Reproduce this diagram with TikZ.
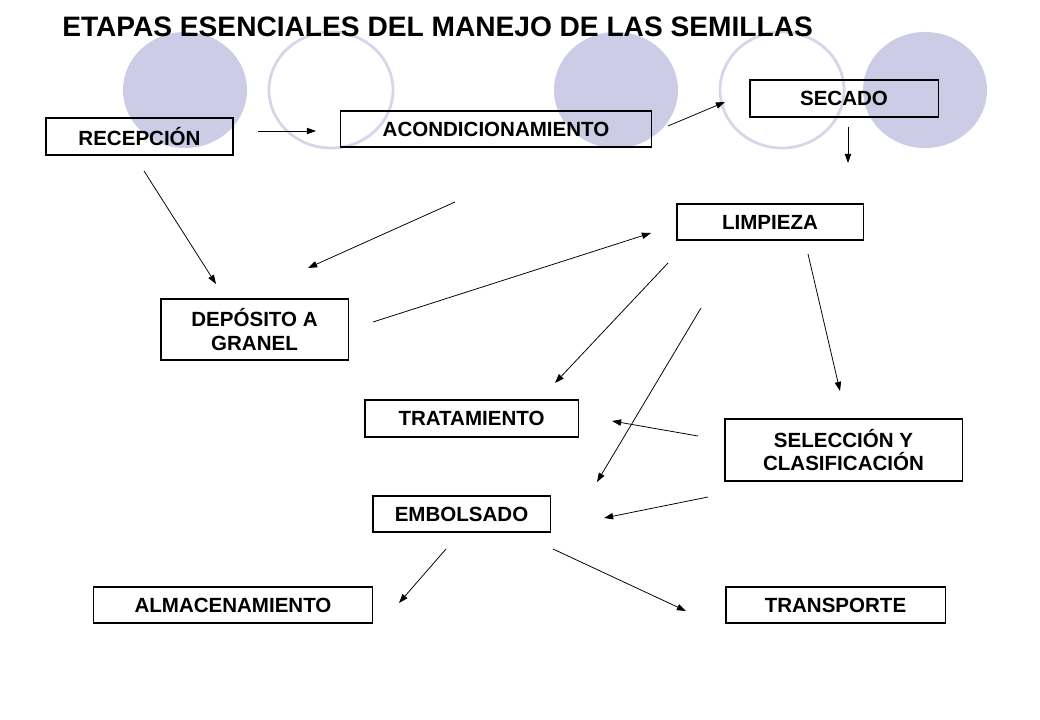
\documentclass[tikz,border=0pt]{standalone}
\usepackage{fontspec}
\setmainfont{Liberation Sans}
\usetikzlibrary{arrows.meta}
\usetikzlibrary{positioning}

\definecolor{lavfill}{HTML}{CCCCE6}
\definecolor{lavline}{HTML}{D6D6EA}

\tikzset{
  etapa/.style={draw, line width=0.75pt, align=center, inner sep=0pt,
    font=\fontsize{14.6}{16.8}\selectfont\bfseries},
  flecha/.style={line width=0.55pt, -{Triangle[length=6.5pt, width=4.5pt]}},
  bola/.style={fill=lavfill},
  aro/.style={draw=lavline, line width=2pt}
}

\begin{document}
\begin{tikzpicture}[x=0.025cm, y=-0.025cm]

  \useasboundingbox (0,0) rectangle (1040,720);

  % ---------- Background circles ----------
  \fill[bola] (185, 90) ellipse (1.55cm and 1.45cm);
  \draw[aro]  (331, 90) ellipse (1.55cm and 1.45cm);
  \fill[bola] (616, 90) ellipse (1.55cm and 1.45cm);
  \draw[aro]  (782, 90) ellipse (1.55cm and 1.45cm);
  \fill[bola] (925, 90) ellipse (1.55cm and 1.45cm);

  % ---------- Title ----------
  \node[anchor=base west, inner sep=0pt, font=\fontsize{20}{22}\selectfont\bfseries]
    at (62, 37) (titulo) {ETAPAS ESENCIALES DEL MANEJO DE LAS SEMILLAS};

  % ---------- Boxes ----------
  \node[etapa, minimum width=4.675cm, minimum height=0.925cm] at (139.5, 136.5) (recep) {RECEPCIÓN};
  \node[etapa, minimum width=7.75cm,  minimum height=0.9cm]   at (496, 129)     (acond) {ACONDICIONAMIENTO};
  \node[etapa, minimum width=4.7cm,   minimum height=0.925cm] at (844, 98.5)    (secado) {SECADO};
  \node[etapa, minimum width=4.65cm,  minimum height=0.9cm]   at (770, 222)     (limp) {LIMPIEZA};
  \node[etapa, minimum width=4.675cm, minimum height=1.525cm] at (254.5, 329.5) (depos) {DEPÓSITO A\\GRANEL};
  \node[etapa, minimum width=5.325cm, minimum height=0.925cm] at (471.5, 418.5) (trat) {TRATAMIENTO};
  \node[etapa, minimum width=5.925cm, minimum height=1.55cm]  at (843.5, 450)   (selec) {SELECCIÓN Y\\CLASIFICACIÓN};
  \node[etapa, minimum width=4.425cm, minimum height=0.9cm]   at (461.5, 514)   (embol) {EMBOLSADO};
  \node[etapa, minimum width=6.95cm,  minimum height=0.9cm]   at (233, 605)     (almac) {ALMACENAMIENTO};
  \node[etapa, minimum width=5.475cm, minimum height=0.9cm]   at (835.5, 605)   (transp) {TRANSPORTE};

  % ---------- Arrow ends ----------
  \coordinate (recepA) at (258, 131);  \coordinate (acondB) at (316, 131);
  \coordinate (acondA) at (668, 126);  \coordinate (secadoB) at (725, 102);
  \coordinate (secadoA) at (848, 127); \coordinate (limpB) at (848, 163);
  \coordinate (recepC) at (144, 171);  \coordinate (deposB) at (216, 284);
  \coordinate (acondC) at (455, 202);  \coordinate (deposD) at (308, 268);
  \coordinate (deposA) at (373, 322);  \coordinate (limpD) at (651, 233);
  \coordinate (limpA) at (668, 263);   \coordinate (tratB) at (555, 383);
  \coordinate (limpC) at (701, 308);   \coordinate (embolB) at (597, 482);
  \coordinate (limpE) at (808, 254);   \coordinate (selecB) at (840, 391);
  \coordinate (selecA) at (698, 436);  \coordinate (tratD) at (612, 421);
  \coordinate (selecC) at (708, 497);  \coordinate (embolD) at (604, 518);
  \coordinate (embolA) at (446, 549);  \coordinate (almacB) at (399, 603);
  \coordinate (embolC) at (553, 549);  \coordinate (transpB) at (686, 611);

  % ---------- Arrows ----------
  \draw[flecha] (recepA) -- (acondB);
  \draw[flecha] (acondA) -- (secadoB);
  \draw[flecha] (secadoA) -- (limpB);
  \draw[flecha] (recepC) -- (deposB);
  \draw[flecha] (acondC) -- (deposD);
  \draw[flecha] (deposA) -- (limpD);
  \draw[flecha] (limpA) -- (tratB);
  \draw[flecha] (limpC) -- (embolB);
  \draw[flecha] (limpE) -- (selecB);
  \draw[flecha] (selecA) -- (tratD);
  \draw[flecha] (selecC) -- (embolD);
  \draw[flecha] (embolA) -- (almacB);
  \draw[flecha] (embolC) -- (transpB);

\end{tikzpicture}
\end{document}
